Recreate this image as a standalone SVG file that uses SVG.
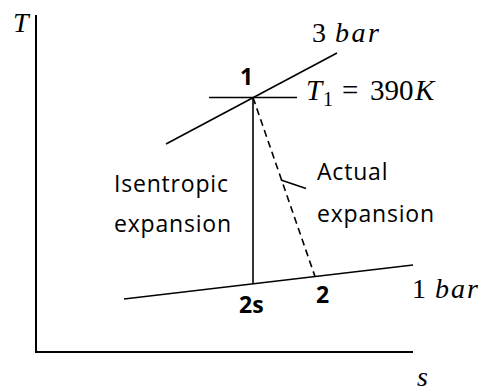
<svg xmlns="http://www.w3.org/2000/svg" width="481" height="391" viewBox="0 0 481 391">
<style>
.ln{stroke:#000;stroke-width:2;fill:none}
.thin{stroke:#000;stroke-width:1.6;fill:none}
.dash{stroke:#000;stroke-width:1.6;fill:none;stroke-dasharray:7,4.5}
.txt{font-family:"Open Sans","Noto Sans",sans-serif;font-size:23px;letter-spacing:0.8px;fill:#000}
.bold{font-family:"Open Sans","Noto Sans",sans-serif;font-size:23px;font-weight:bold;fill:#000}
.math{font-family:"Liberation Serif","DejaVu Serif",serif;font-size:28px;fill:#000}
.it{font-style:italic}
</style>
<rect width="481" height="391" fill="#fff"/>
<g id="axes">
<polyline class="ln" points="36,15 36,352 413,352"/>
<text class="math it" x="13" y="32">T</text>
<text class="math it" x="417" y="386">s</text>
</g>
<g id="isobar-3bar">
<line class="thin" x1="166" y1="144" x2="337" y2="53"/>
<text class="math" x="312" y="42">3</text>
<text class="math it" x="335" y="42" style="letter-spacing:2.5px">bar</text>
</g>
<g id="isobar-1bar">
<line class="thin" x1="124" y1="299" x2="413" y2="265"/>
<text class="math" x="412" y="298">1</text>
<text class="math it" x="435" y="298" style="letter-spacing:2px">bar</text>
</g>
<g id="point-1">
<line class="thin" x1="209" y1="97.5" x2="297" y2="97.5"/>
<text class="bold" x="240" y="85">1</text>
<text class="math it" x="306" y="100" style="font-size:29px">T</text>
<text class="math" x="323" y="106" style="font-size:20px">1</text>
<text class="math" x="342" y="100" style="font-size:29px">=</text>
<text class="math" x="370" y="100" style="font-size:29px">390</text>
<text class="math it" x="415" y="100" style="font-size:29px">K</text>
</g>
<g id="point-2s">
<text class="bold" x="239" y="313">2s</text>
</g>
<g id="point-2">
<text class="bold" x="316" y="303">2</text>
</g>
<g id="connectors">
<line class="thin" x1="253" y1="97.5" x2="253" y2="284"/>
<line class="dash" x1="253" y1="97.5" x2="315" y2="276.5"/>
<line class="thin" x1="281" y1="180" x2="306" y2="188.5"/>
</g>
<g id="label-isentropic">
<text class="txt" x="114" y="192">Isentropic</text>
<text class="txt" x="114" y="232">expansion</text>
</g>
<g id="label-actual">
<text class="txt" x="317" y="180">Actual</text>
<text class="txt" x="317" y="222">expansion</text>
</g>
</svg>
